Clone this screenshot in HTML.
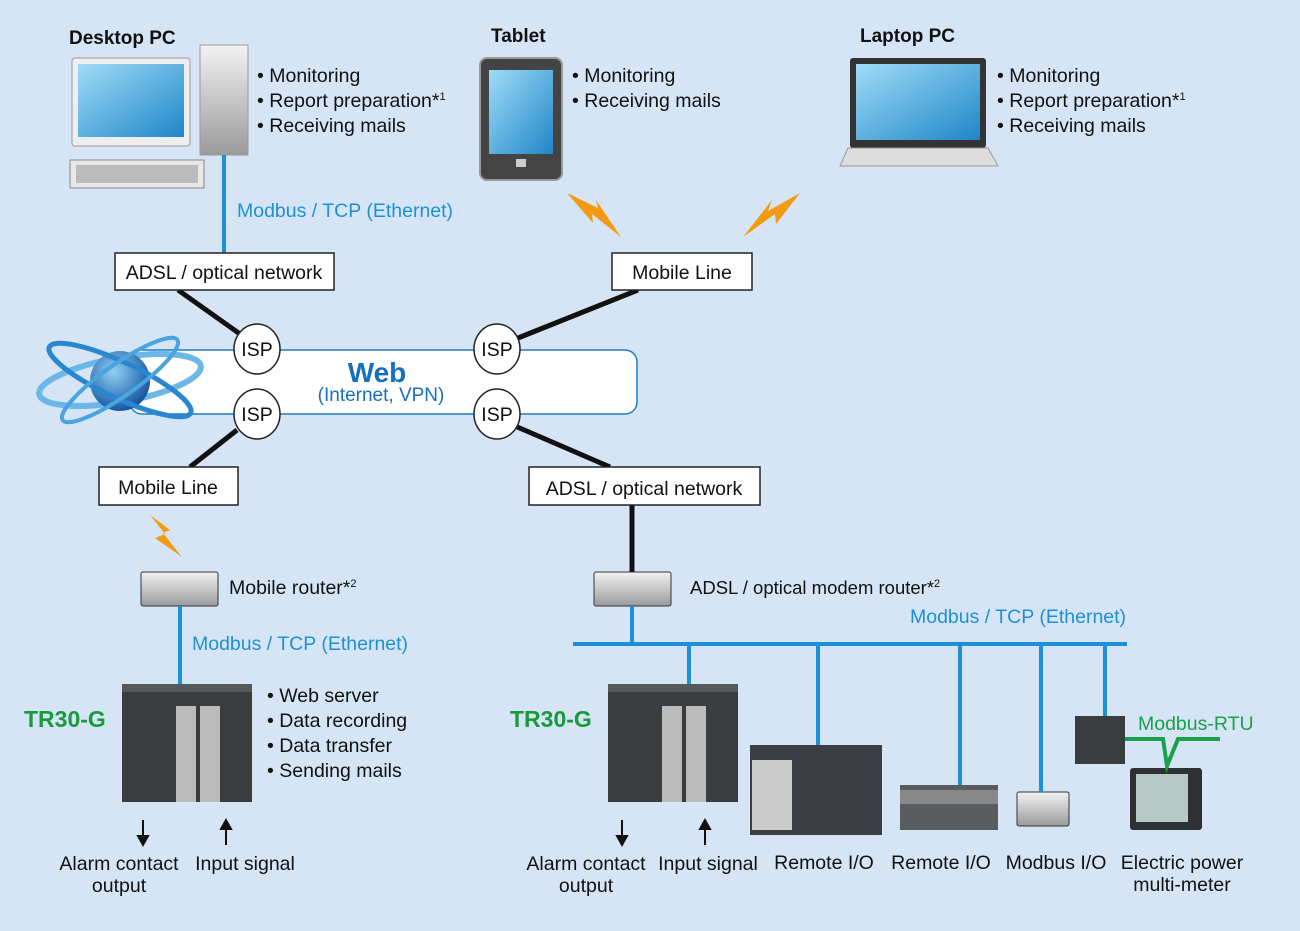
<!DOCTYPE html>
<html><head><meta charset="utf-8"><style>
body{margin:0;background:#d5e5f6;}
svg{display:block;font-family:"Liberation Sans",sans-serif;}
</style></head><body>
<svg width="1300" height="931" viewBox="0 0 1300 931" xmlns="http://www.w3.org/2000/svg">
<defs>
<linearGradient id="scr" x1="0" y1="0" x2="1" y2="1"><stop offset="0" stop-color="#9fdcf7"/><stop offset="1" stop-color="#1f86c8"/></linearGradient>
<linearGradient id="gr" x1="0" y1="0" x2="0" y2="1"><stop offset="0" stop-color="#f2f2f2"/><stop offset="1" stop-color="#9a9a9a"/></linearGradient>
<radialGradient id="globe" cx="0.4" cy="0.35" r="0.7"><stop offset="0" stop-color="#8fd0f5"/><stop offset="1" stop-color="#0c4f9a"/></radialGradient>
</defs>
<rect width="1300" height="931" fill="#d5e5f6"/>

<g font-weight="bold" font-size="19" fill="#111">
<text x="69" y="44">Desktop PC</text>
<text x="491" y="42">Tablet</text>
<text x="860" y="42">Laptop PC</text>
</g>
<g font-size="19.5" fill="#111">
<text x="257" y="82">• Monitoring</text>
<text x="257" y="107">• Report preparation*<tspan font-size="11" dy="-7">1</tspan></text>
<text x="257" y="132">• Receiving mails</text>
<text x="572" y="82">• Monitoring</text>
<text x="572" y="107">• Receiving mails</text>
<text x="997" y="82">• Monitoring</text>
<text x="997" y="107">• Report preparation*<tspan font-size="11" dy="-7">1</tspan></text>
<text x="997" y="132">• Receiving mails</text>
</g>

<rect x="72" y="58" width="118" height="88" rx="3" fill="#eee" stroke="#999"/>
<rect x="78" y="64" width="106" height="73" fill="url(#scr)"/>
<rect x="70" y="160" width="134" height="28" fill="#e8e8e8" stroke="#888"/>
<rect x="76" y="165" width="122" height="18" fill="#bbb"/>
<rect x="200" y="45" width="48" height="110" fill="url(#gr)" stroke="#999"/>
<line x1="224" y1="155" x2="224" y2="253" stroke="#1e90d6" stroke-width="4"/>

<rect x="480" y="58" width="82" height="122" rx="7" fill="#444" stroke="#999" stroke-width="2"/>
<rect x="489" y="70" width="64" height="84" fill="url(#scr)"/>
<rect x="516" y="159" width="10" height="8" fill="#ccc"/>

<rect x="850" y="58" width="136" height="90" rx="3" fill="#333"/>
<rect x="856" y="64" width="124" height="76" fill="url(#scr)"/>
<polygon points="848,148 988,148 998,166 840,166" fill="#ddd" stroke="#999"/>

<g fill="#f39a10">
<polygon points="567,193 598,208 596,200 621,237 592,214 593,223"/>
<polygon points="800,193 768,211 772,200 743,237 775,214 776,224"/>
<polygon points="150,515 170,530 163,533 182,557 155,538 165,534"/>
</g>

<text x="237" y="217" font-size="19.5" fill="#1e90d6">Modbus / TCP (Ethernet)</text>

<g stroke="#111" stroke-width="5">
<line x1="178" y1="290" x2="240" y2="334"/>
<line x1="638" y1="290" x2="518" y2="338"/>
<line x1="237" y1="430" x2="190" y2="467"/>
<line x1="515" y1="426" x2="610" y2="467"/>
<line x1="632" y1="505" x2="632" y2="572"/>
</g>

<g fill="#fff" stroke="#222" stroke-width="1.5">
<rect x="115" y="253" width="219" height="37"/>
<rect x="612" y="253" width="140" height="37"/>
<rect x="99" y="467" width="139" height="38"/>
<rect x="529" y="467" width="231" height="38"/>
</g>
<g font-size="19.5" fill="#111" text-anchor="middle">
<text x="224" y="279">ADSL / optical network</text>
<text x="682" y="279">Mobile Line</text>
<text x="168" y="494">Mobile Line</text>
<text x="644" y="495">ADSL / optical network</text>
</g>

<rect x="130" y="350" width="507" height="64" rx="12" fill="#fff" stroke="#1e7cc8" stroke-width="1.5"/>
<text x="377" y="382" font-size="28" font-weight="900" fill="#1670bd" text-anchor="middle">Web</text>
<text x="381" y="401" font-size="19" fill="#1670bd" text-anchor="middle">(Internet, VPN)</text>
<ellipse cx="120" cy="380" rx="82" ry="22" fill="none" stroke="#6bb8e6" stroke-width="6" transform="rotate(-10 120 380)"/>
<circle cx="120" cy="381" r="30" fill="url(#globe)"/>
<ellipse cx="120" cy="380" rx="78" ry="18" fill="none" stroke="#2a86cf" stroke-width="5" transform="rotate(25 120 380)"/>
<ellipse cx="120" cy="380" rx="70" ry="16" fill="none" stroke="#4aa4de" stroke-width="4" transform="rotate(-35 120 380)"/>

<g fill="#fff" stroke="#222" stroke-width="1.5">
<ellipse cx="257" cy="349" rx="23" ry="25"/>
<ellipse cx="257" cy="414" rx="23" ry="25"/>
<ellipse cx="497" cy="349" rx="23" ry="25"/>
<ellipse cx="497" cy="414" rx="23" ry="25"/>
</g>
<g font-size="19.5" fill="#111" text-anchor="middle">
<text x="257" y="356">ISP</text><text x="257" y="421">ISP</text>
<text x="497" y="356">ISP</text><text x="497" y="421">ISP</text>
</g>

<g fill="url(#gr)" stroke="#333">
<rect x="141" y="572" width="77" height="34" rx="2"/>
<rect x="594" y="572" width="77" height="34" rx="2"/>
<rect x="1017" y="792" width="52" height="34" rx="2"/>
</g>
<text x="229" y="594" font-size="19.5" fill="#111">Mobile router*<tspan font-size="11" dy="-7">2</tspan></text>
<text x="690" y="594" font-size="18.5" fill="#111">ADSL / optical modem router*<tspan font-size="11" dy="-7">2</tspan></text>

<g stroke="#1e90d6" stroke-width="4">
<line x1="180" y1="606" x2="180" y2="684"/>
<line x1="632" y1="606" x2="632" y2="644"/>
<line x1="573" y1="644" x2="1127" y2="644"/>
<line x1="689" y1="644" x2="689" y2="686"/>
<line x1="818" y1="644" x2="818" y2="750"/>
<line x1="960" y1="644" x2="960" y2="790"/>
<line x1="1041" y1="644" x2="1041" y2="792"/>
<line x1="1105" y1="644" x2="1105" y2="716"/>
</g>
<text x="192" y="650" font-size="19.5" fill="#1e90d6">Modbus / TCP (Ethernet)</text>
<text x="910" y="623" font-size="19.5" fill="#1e90d6">Modbus / TCP (Ethernet)</text>

<g>
<rect x="122" y="684" width="130" height="118" fill="#3a3d40"/>
<rect x="122" y="684" width="130" height="8" fill="#55595c"/>
<rect x="176" y="706" width="20" height="96" fill="#bbb"/><rect x="200" y="706" width="20" height="96" fill="#bbb"/>
<rect x="608" y="684" width="130" height="118" fill="#3a3d40"/>
<rect x="608" y="684" width="130" height="8" fill="#55595c"/>
<rect x="662" y="706" width="20" height="96" fill="#bbb"/><rect x="686" y="706" width="20" height="96" fill="#bbb"/>
</g>
<g font-size="23" font-weight="bold" fill="#1a9a3c">
<text x="24" y="727">TR30-G</text>
<text x="510" y="727">TR30-G</text>
</g>
<g font-size="19.5" fill="#111">
<text x="267" y="702">• Web server</text>
<text x="267" y="727">• Data recording</text>
<text x="267" y="752">• Data transfer</text>
<text x="267" y="777">• Sending mails</text>
</g>

<g stroke="#111" stroke-width="2" fill="#111">
<line x1="143" y1="820" x2="143" y2="838"/><polygon points="138,836 148,836 143,845"/>
<line x1="226" y1="827" x2="226" y2="845"/><polygon points="221,829 231,829 226,820"/>
<line x1="622" y1="820" x2="622" y2="838"/><polygon points="617,836 627,836 622,845"/>
<line x1="705" y1="827" x2="705" y2="845"/><polygon points="700,829 710,829 705,820"/>
</g>

<rect x="750" y="745" width="132" height="90" fill="#3b3e42"/>
<rect x="752" y="760" width="40" height="70" fill="#ccc"/>
<rect x="900" y="785" width="98" height="45" fill="#5a5d60"/>
<rect x="900" y="790" width="98" height="14" fill="#888"/>
<rect x="1075" y="716" width="50" height="48" fill="#3a3d40"/>
<rect x="1130" y="768" width="72" height="62" rx="3" fill="#2e3033"/>
<rect x="1136" y="774" width="52" height="48" fill="#b7c9c6"/>
<polyline points="1125,739 1163,739 1167,766 1178,739 1220,739" stroke="#1aa04a" stroke-width="4" fill="none"/>
<text x="1138" y="730" font-size="19.5" fill="#1aa04a">Modbus-RTU</text>

<g font-size="19.5" fill="#111" text-anchor="middle">
<text x="119" y="870">Alarm contact</text><text x="119" y="892">output</text>
<text x="245" y="870">Input signal</text>
<text x="586" y="870">Alarm contact</text><text x="586" y="892">output</text>
<text x="708" y="870">Input signal</text>
<text x="824" y="869">Remote I/O</text>
<text x="941" y="869">Remote I/O</text>
<text x="1056" y="869">Modbus I/O</text>
<text x="1182" y="869">Electric power</text><text x="1182" y="891">multi-meter</text>
</g>
</svg>
</body></html>
